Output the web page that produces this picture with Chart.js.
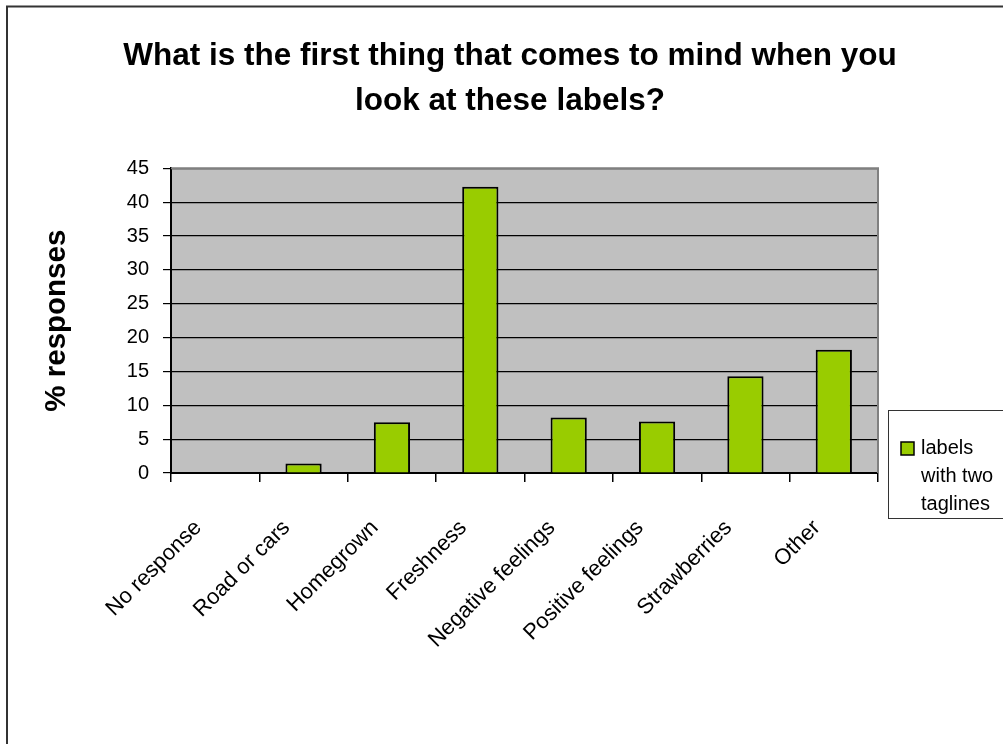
<!DOCTYPE html>
<html>
<head>
<meta charset="utf-8">
<script src="https://cdn.jsdelivr.net/npm/chart.js@4.4.0/dist/chart.umd.min.js"></script>
<style>
  body { margin: 0; background: #fff; }
  #wrap { width: 1003px; height: 744px; position: relative; }
</style>
</head>
<body>
<div id="wrap"><canvas id="surveyChart"></canvas></div>
<script>
const categories = ['No response', 'Road or cars', 'Homegrown', 'Freshness', 'Negative feelings', 'Positive feelings', 'Strawberries', 'Other'];
const responses = [0, 1.4, 7.5, 42.3, 8.2, 7.6, 14.3, 18.2];
const seriesName = 'labels with two taglines';
const titleLines = ['What is the first thing that comes to mind when you', 'look at these labels?'];
const yTitle = '% responses';

const FONT = "'Liberation Sans', Arial, sans-serif";

// grey plot area + outer frame, like the old Excel chart
const backdrop = {
    id: 'backdrop',
    beforeDraw(chart) {
        const ctx = chart.ctx;
        const a = chart.chartArea;
        ctx.save();
        ctx.fillStyle = '#fff';
        ctx.fillRect(0, 0, chart.width, chart.height);
        ctx.strokeStyle = '#333';
        ctx.lineWidth = 2;
        ctx.strokeRect(7, 6.5, chart.width + 20, chart.height + 20);
        ctx.fillStyle = '#c0c0c0';
        ctx.fillRect(a.left, a.top, a.right - a.left, a.bottom - a.top);
        ctx.restore();
    },
    afterDatasetsDraw(chart) {
        const ctx = chart.ctx;
        const a = chart.chartArea;
        ctx.save();
        ctx.strokeStyle = '#808080';
        ctx.lineWidth = 2;
        ctx.beginPath();
        ctx.moveTo(a.left, a.top);
        ctx.lineTo(a.right, a.top);
        ctx.lineTo(a.right, a.bottom);
        ctx.stroke();
        ctx.restore();
    }
};

// legend box on the right, cut off by the edge as in the original
const sideLegend = {
    id: 'sideLegend',
    afterDraw(chart) {
        const ctx = chart.ctx;
        const ds = chart.data.datasets[0];
        const x = chart.chartArea.right + 10, y = 410;
        ctx.save();
        ctx.fillStyle = '#fff';
        ctx.fillRect(x, y, 200, 108);
        ctx.strokeStyle = '#333';
        ctx.lineWidth = 1;
        ctx.strokeRect(x + 0.5, y + 0.5, 200, 108);
        ctx.fillStyle = ds.backgroundColor;
        ctx.fillRect(x + 13, y + 32, 13, 13);
        ctx.strokeStyle = '#000';
        ctx.lineWidth = 1.5;
        ctx.strokeRect(x + 13, y + 32, 13, 13);
        ctx.fillStyle = '#000';
        ctx.font = '20px ' + FONT;
        ctx.textBaseline = 'middle';
        const words = ds.label.split(' ');
        const lines = [words[0], words[1] + ' ' + words[2], words[3]];
        lines.forEach((t, i) => ctx.fillText(t, x + 33, y + 38 + i * 28));
        ctx.restore();
    }
};

const ctx = document.getElementById('surveyChart').getContext('2d');
new Chart(ctx, {
    type: 'bar',
    data: {
        labels: categories,
        datasets: [{
            label: seriesName,
            data: responses,
            backgroundColor: '#99cc00',
            borderColor: '#000',
            borderWidth: 2,
            categoryPercentage: 1,
            barPercentage: 0.41
        }]
    },
    options: {
        responsive: true,
        maintainAspectRatio: false,
        animation: false,
        layout: { padding: { left: 17, right: 0, top: 0, bottom: 0 } },
        plugins: {
            legend: { display: false },
            tooltip: { enabled: false },
            title: {
                display: true,
                text: titleLines,
                color: '#000',
                font: { family: FONT, size: 31.5, weight: 'bold', lineHeight: 1.45 },
                padding: { top: 33, bottom: 44 }
            }
        },
        scales: {
            x: {
                afterFit(scale) { scale.height = 271; },
                grid: {
                    offset: true,
                    drawOnChartArea: false,
                    color: '#000',
                    tickLength: 9,
                    lineWidth: 1.5
                },
                border: { display: true, color: '#000', width: 2 },
                ticks: {
                    color: '#000',
                    font: { family: FONT, size: 22 },
                    minRotation: 45,
                    maxRotation: 45,
                    labelOffset: -17,
                    padding: 33
                }
            },
            y: {
                min: 0,
                max: 45,
                afterFit(scale) { scale.width = 154; },
                grid: {
                    color: '#000',
                    lineWidth: 1.2,
                    tickLength: 8
                },
                border: { display: true, color: '#000', width: 2 },
                ticks: {
                    stepSize: 5,
                    color: '#000',
                    font: { family: FONT, size: 20 },
                    padding: 14
                },
                title: {
                    display: true,
                    text: yTitle,
                    color: '#000',
                    font: { family: FONT, size: 29.5, weight: 'bold' },
                    padding: { top: 22 }
                }
            },
            // empty right axis that only reserves room for the legend box
            legendRoom: {
                type: 'linear',
                position: 'right',
                afterFit(scale) { scale.width = 125; },
                grid: { display: false },
                border: { display: false },
                ticks: { display: false }
            }
        }
    },
    plugins: [backdrop, sideLegend]
});
</script>
</body>
</html>
